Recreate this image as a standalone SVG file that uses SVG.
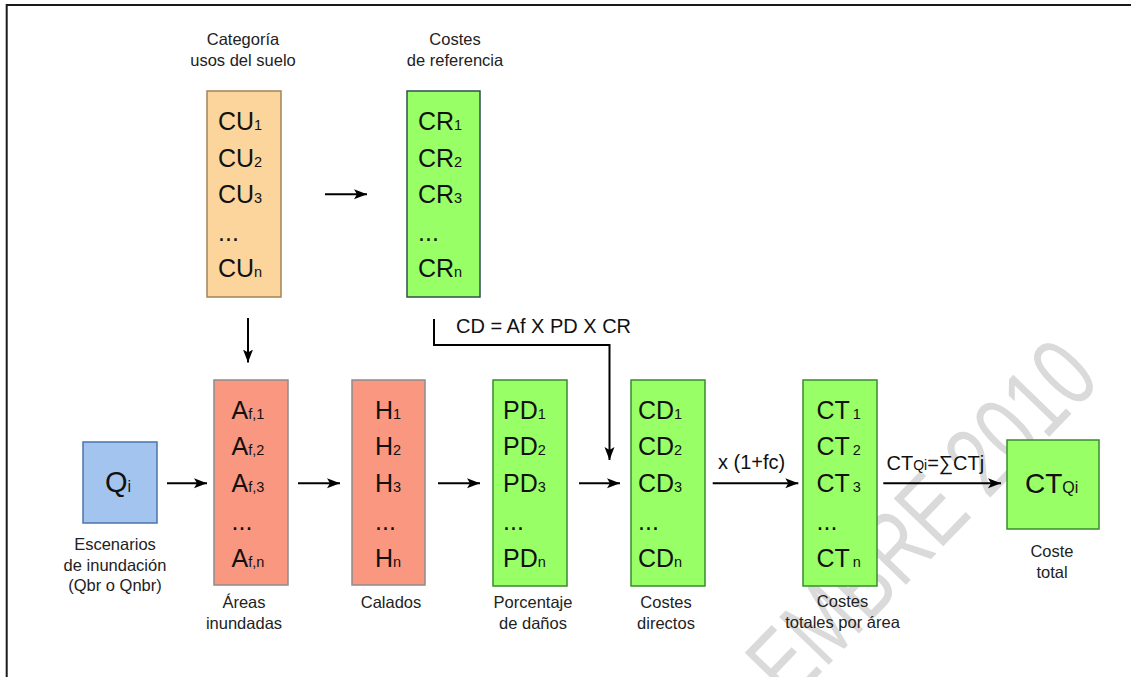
<svg xmlns="http://www.w3.org/2000/svg" width="1131" height="677" viewBox="0 0 1131 677">
<defs>
<style>
text{font-family:"Liberation Sans",Arial,sans-serif;fill:#111}
.lbl{font-size:16.5px;text-anchor:middle;fill:#222}
.bx{font-size:25px}
.sb{font-size:14.5px}
.eq{font-size:20px}
.conn line,.conn path{stroke:#000;stroke-width:2;fill:none}
.orange{fill:#FCD59C;stroke:#A2825A;stroke-width:1.5}
.green{fill:#99FF66;stroke:#3A8A2E;stroke-width:1.5}
.greenDark{fill:#99FF66;stroke:#2F4F4F;stroke-width:1.5}
.salmon{fill:#F99781;stroke:#8C8C8C;stroke-width:1.5}
.blue{fill:#A4C4F0;stroke:#4A74AA;stroke-width:1.5}
</style>
<marker id="ah" markerUnits="userSpaceOnUse" markerWidth="14" markerHeight="12" refX="13" refY="5" orient="auto">
<path d="M0,0 L13,5 L0,10 L3,5 z" fill="#000"/>
</marker>
</defs>
<rect width="1131" height="677" fill="#fff"/>
<!-- watermark -->
<text x="0" y="0" transform="translate(790,705) rotate(-46)" font-size="100" textLength="450" lengthAdjust="spacingAndGlyphs" style="fill:#dadada">EMBRE 2010</text>
<!-- frame -->
<path d="M6.7,677 L6.7,5 L1131,5" fill="none" stroke="#1a1a1a" stroke-width="2"/>

<!-- titles -->
<g id="title-cu"><text class="lbl" x="243" y="45">Categoría</text><text class="lbl" x="243" y="66">usos del suelo</text></g>
<g id="title-cr"><text class="lbl" x="455" y="45">Costes</text><text class="lbl" x="455" y="66">de referencia</text></g>

<g id="node-cu">
<rect class="orange" x="207" y="91" width="74" height="206"/>
<text class="bx" x="218" y="130">CU<tspan class="sb">1</tspan></text>
<text class="bx" x="218" y="166.7">CU<tspan class="sb">2</tspan></text>
<text class="bx" x="218" y="203.3">CU<tspan class="sb">3</tspan></text>
<text class="bx" x="218" y="241">...</text>
<text class="bx" x="218" y="276.7">CU<tspan class="sb">n</tspan></text>
</g>

<g id="node-cr">
<rect class="greenDark" x="407" y="91" width="73" height="206"/>
<text class="bx" x="418" y="130">CR<tspan class="sb">1</tspan></text>
<text class="bx" x="418" y="166.7">CR<tspan class="sb">2</tspan></text>
<text class="bx" x="418" y="203.3">CR<tspan class="sb">3</tspan></text>
<text class="bx" x="418" y="241">...</text>
<text class="bx" x="418" y="276.7">CR<tspan class="sb">n</tspan></text>
</g>

<g id="node-qi">
<rect class="blue" x="83" y="442" width="74" height="81"/>
<text x="105" y="491.7" font-size="29">Q<tspan font-size="16">i</tspan></text>
<text class="lbl" x="115" y="550">Escenarios</text>
<text class="lbl" x="115" y="570.5">de inundación</text>
<text class="lbl" x="115" y="591">(Qbr o Qnbr)</text>
</g>

<g id="node-af">
<rect class="salmon" x="214" y="380" width="74" height="205"/>
<text class="bx" x="231.5" y="418.5">A<tspan class="sb">f,1</tspan></text>
<text class="bx" x="231.5" y="455.2">A<tspan class="sb">f,2</tspan></text>
<text class="bx" x="231.5" y="491.9">A<tspan class="sb">f,3</tspan></text>
<text class="bx" x="231.5" y="530">...</text>
<text class="bx" x="231.5" y="566.7">A<tspan class="sb">f,n</tspan></text>
<text class="lbl" x="244" y="608">Áreas</text>
<text class="lbl" x="244" y="628.5">inundadas</text>
</g>

<g id="node-h">
<rect class="salmon" x="352" y="380" width="73" height="205"/>
<text class="bx" x="375" y="418.5">H<tspan class="sb">1</tspan></text>
<text class="bx" x="375" y="455.2">H<tspan class="sb">2</tspan></text>
<text class="bx" x="375" y="491.9">H<tspan class="sb">3</tspan></text>
<text class="bx" x="375" y="530">...</text>
<text class="bx" x="375" y="566.7">H<tspan class="sb">n</tspan></text>
<text class="lbl" x="391" y="608">Calados</text>
</g>

<g id="node-pd">
<rect class="green" x="493" y="380" width="74" height="206"/>
<text class="bx" x="503" y="418.5">PD<tspan class="sb">1</tspan></text>
<text class="bx" x="503" y="455.2">PD<tspan class="sb">2</tspan></text>
<text class="bx" x="503" y="491.9">PD<tspan class="sb">3</tspan></text>
<text class="bx" x="503" y="530">...</text>
<text class="bx" x="503" y="566.7">PD<tspan class="sb">n</tspan></text>
<text class="lbl" x="533" y="608">Porcentaje</text>
<text class="lbl" x="533" y="628.5">de daños</text>
</g>

<g id="node-cd">
<rect class="green" x="631" y="380" width="74" height="206"/>
<text class="bx" x="638" y="418.5">CD<tspan class="sb">1</tspan></text>
<text class="bx" x="638" y="455.2">CD<tspan class="sb">2</tspan></text>
<text class="bx" x="638" y="491.9">CD<tspan class="sb">3</tspan></text>
<text class="bx" x="638" y="530">...</text>
<text class="bx" x="638" y="566.7">CD<tspan class="sb">n</tspan></text>
<text class="lbl" x="666" y="608">Costes</text>
<text class="lbl" x="666" y="628.5">directos</text>
</g>

<g id="node-ct">
<rect class="green" x="803" y="380" width="74" height="206"/>
<text class="bx" x="816.5" y="418.5">CT<tspan class="sb" dx="3">1</tspan></text>
<text class="bx" x="816.5" y="455.2">CT<tspan class="sb" dx="3">2</tspan></text>
<text class="bx" x="816.5" y="491.9">CT<tspan class="sb" dx="3">3</tspan></text>
<text class="bx" x="816.5" y="530">...</text>
<text class="bx" x="816.5" y="566.7">CT<tspan class="sb" dx="3">n</tspan></text>
<text class="lbl" x="842.5" y="607">Costes</text>
<text class="lbl" x="842.5" y="627.5">totales por área</text>
</g>

<g id="node-ctqi">
<rect class="green" x="1007" y="440" width="92" height="89"/>
<text x="1025" y="493.3" font-size="28">CT<tspan font-size="16">Qi</tspan></text>
<text class="lbl" x="1052" y="556.7">Coste</text>
<text class="lbl" x="1052" y="578">total</text>
</g>

<g id="connectors" class="conn">
<line x1="325" y1="194.3" x2="367" y2="194.3" marker-end="url(#ah)"/>
<line x1="248" y1="318" x2="248" y2="362.5" marker-end="url(#ah)"/>
<line x1="167" y1="483.3" x2="207" y2="483.3" marker-end="url(#ah)"/>
<line x1="298" y1="483.3" x2="340" y2="483.3" marker-end="url(#ah)"/>
<line x1="438" y1="483.3" x2="480" y2="483.3" marker-end="url(#ah)"/>
<line x1="579" y1="483.3" x2="620" y2="483.3" marker-end="url(#ah)"/>
<line x1="712.7" y1="483.3" x2="798.3" y2="483.3" marker-end="url(#ah)"/>
<line x1="883.3" y1="483.3" x2="1001" y2="483.3" marker-end="url(#ah)"/>
<path d="M434,319 L434,345 L609.5,345 L609.5,460" marker-end="url(#ah)"/>
<text class="eq" x="456" y="333">CD = Af X PD X CR</text>
<text class="eq" x="718" y="469">x (1+fc)</text>
<text class="eq" x="886.5" y="469.5">CT<tspan font-size="14">Qi</tspan>=∑CTj</text>
</g>
</svg>
